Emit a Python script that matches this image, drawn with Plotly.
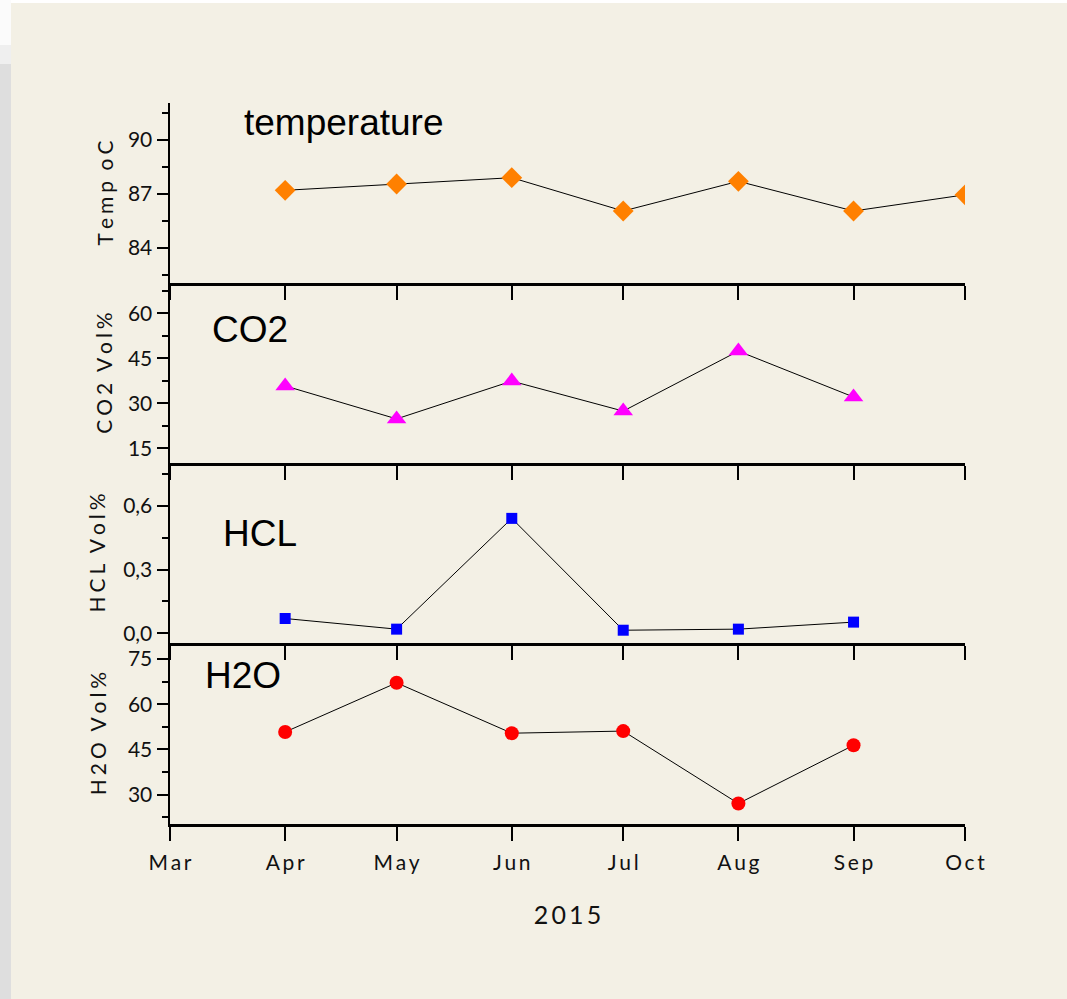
import plotly.graph_objects as go

# ---------------- data ----------------
months_temp = ['2015-04-01', '2015-05-01', '2015-06-01', '2015-07-01',
               '2015-08-01', '2015-09-01', '2015-10-01']
temp = [87.2, 87.55, 87.9, 86.05, 87.7, 86.05, 86.95]

months = ['2015-04-01', '2015-05-01', '2015-06-01', '2015-07-01',
          '2015-08-01', '2015-09-01']
co2 = [35.8, 24.8, 37.4, 27.4, 47.4, 32.1]
hcl = [0.07, 0.02, 0.54, 0.015, 0.02, 0.053]
h2o = [50.8, 67.1, 50.4, 51.1, 27.1, 46.4]

x_tickvals = ['2015-03-01', '2015-04-01', '2015-05-01', '2015-06-01',
              '2015-07-01', '2015-08-01', '2015-09-01', '2015-10-01']
x_ticktext = ['Mar', 'Apr', 'May', 'Jun', 'Jul', 'Aug', 'Sep', 'Oct']

temp_ticks = [84, 87, 90]
co2_ticks = [15, 30, 45, 60]
hcl_ticks = [0.0, 0.3, 0.6]
hcl_ticktext = ['0,0', '0,3', '0,6']
h2o_ticks = [30, 45, 60, 75]

temp_minor = [82.5, 85.5, 88.5, 91.5]
co2_minor = [22.5, 37.5, 52.5, 67.5]
hcl_minor = [0.15, 0.45, 0.75]
h2o_minor = [22.5, 37.5, 52.5, 67.5]


def spaced(s, sep='\u2009'):
    return sep.join(list(s))


def title_spaced(a, b):
    sep = '\u2009\u200a'
    return spaced(a, sep) + '\u2009 \u2009' + spaced(b, sep)


BG = '#f3f0e5'
TXT = '#111111'
FONT = 'Lato'
W, H = 1067, 999
ML, MR, MT, MB = 170, 102, 103, 175
PW, PH = W - ML - MR, H - MT - MB


def px(x):
    return (x - ML) / PW


def py(y):
    return (H - MB - y) / PH


fig = go.Figure()

line = dict(color='black', width=1)
fig.add_trace(go.Scatter(x=months_temp, y=temp, mode='lines+markers', line=line,
                         marker=dict(symbol='diamond', size=16, color='#ff8000'),
                         xaxis='x', yaxis='y'))
fig.add_trace(go.Scatter(x=months, y=co2, mode='lines+markers', line=line,
                         marker=dict(symbol='triangle-up', size=17, color='#ff00ff'),
                         xaxis='x2', yaxis='y2'))
fig.add_trace(go.Scatter(x=months, y=hcl, mode='lines+markers', line=line,
                         marker=dict(symbol='square', size=11, color='#0000ff'),
                         xaxis='x3', yaxis='y3'))
fig.add_trace(go.Scatter(x=months, y=h2o, mode='lines+markers', line=line,
                         marker=dict(symbol='circle', size=14, color='#ff0000'),
                         xaxis='x4', yaxis='y4'))

tickfont = dict(family=FONT, size=21, color=TXT)
titlefont = dict(family=FONT, size=21, color=TXT)

domains = [
    [py(283), 1.0],
    [py(463), py(283)],
    [py(643), py(463)],
    [0.0, py(643)],
]


def xaxis_cfg(anchor, show_labels):
    return dict(
        type='date', range=['2015-03-01', '2015-10-01'], anchor=anchor,
        showline=True, linecolor='black', linewidth=2.5,
        ticks='outside', ticklen=14, tickwidth=2, tickcolor='black',
        tickvals=x_tickvals, ticktext=[spaced(t) for t in x_ticktext],
        showticklabels=show_labels, showgrid=False, zeroline=False,
        ticklabelstandoff=4,
        tickfont=dict(family=FONT, size=21, color=TXT),
    )


def yaxis_cfg(rng, tickvals, ticktext, minor_vals, title, domain, anchor, standoff):
    return dict(
        range=rng, domain=domain, anchor=anchor,
        showline=True, linecolor='black', linewidth=2.5,
        ticks='outside', ticklen=11, tickwidth=2, tickcolor='black',
        tickvals=tickvals, ticktext=ticktext,
        minor=dict(ticks='outside', ticklen=6, tickwidth=2, tickcolor='black',
                   tickvals=minor_vals),
        showgrid=False, zeroline=False, tickfont=tickfont,
        title=dict(text=title, font=titlefont, standoff=standoff),
    )


fig.update_layout(
    width=W, height=H,
    margin=dict(l=ML, r=MR, t=MT, b=MB, pad=0),
    paper_bgcolor=BG, plot_bgcolor='rgba(0,0,0,0)',
    showlegend=False,
    xaxis=xaxis_cfg('y', False),
    xaxis2=xaxis_cfg('y2', False) | dict(matches='x'),
    xaxis3=xaxis_cfg('y3', False) | dict(matches='x'),
    xaxis4=xaxis_cfg('y4', True) | dict(matches='x', title=dict(
        text=spaced('2015'), font=dict(family=FONT, size=25, color=TXT),
        standoff=34)),
    yaxis=yaxis_cfg([82.05, 92.05], temp_ticks, [str(v) for v in temp_ticks], temp_minor,
                    title_spaced('Temp', 'oC'), domains[0], 'x', 9),
    yaxis2=yaxis_cfg([10.1, 70.1], co2_ticks, [str(v) for v in co2_ticks], co2_minor,
                     title_spaced('CO2', 'Vol%'), domains[1], 'x2', 10),
    yaxis3=yaxis_cfg([-0.045, 0.8], hcl_ticks, hcl_ticktext, hcl_minor,
                     title_spaced('HCL', 'Vol%'), domains[2], 'x3', 12),
    yaxis4=yaxis_cfg([20.3, 80.3], h2o_ticks, [str(v) for v in h2o_ticks], h2o_minor,
                     title_spaced('H2O', 'Vol%'), domains[3], 'x4', 16),
)

# panel labels
labels = [('temperature', 242, 122), ('CO2', 210, 329), ('HCL', 221, 533), ('H2O', 203, 675)]
for text, lx, ly in labels:
    fig.add_annotation(text=text, xref='paper', yref='paper', x=px(lx), y=py(ly),
                       xanchor='left', yanchor='middle', showarrow=False,
                       font=dict(family='Liberation Sans', size=37, color='black'))

# page frame (white top strip, grey left strip)
shapes = [
    dict(x0=px(0), x1=px(W), y0=py(0), y1=py(3), color='#ffffff'),
    dict(x0=px(0), x1=px(11), y0=py(0), y1=py(45), color='#fbfbfb'),
    dict(x0=px(0), x1=px(11), y0=py(45), y1=py(64), color='#efefef'),
    dict(x0=px(0), x1=px(11), y0=py(64), y1=py(H), color='#dedede'),
]
for s in shapes:
    fig.add_shape(type='rect', xref='paper', yref='paper', x0=s['x0'], x1=s['x1'],
                  y0=s['y0'], y1=s['y1'], fillcolor=s['color'], line=dict(width=0),
                  layer='below')

fig.write_html('out.html', config={'displayModeBar': False, 'staticPlot': True},
               post_script="document.body.style.margin='0';"
                           "document.body.style.background='" + BG + "';")
